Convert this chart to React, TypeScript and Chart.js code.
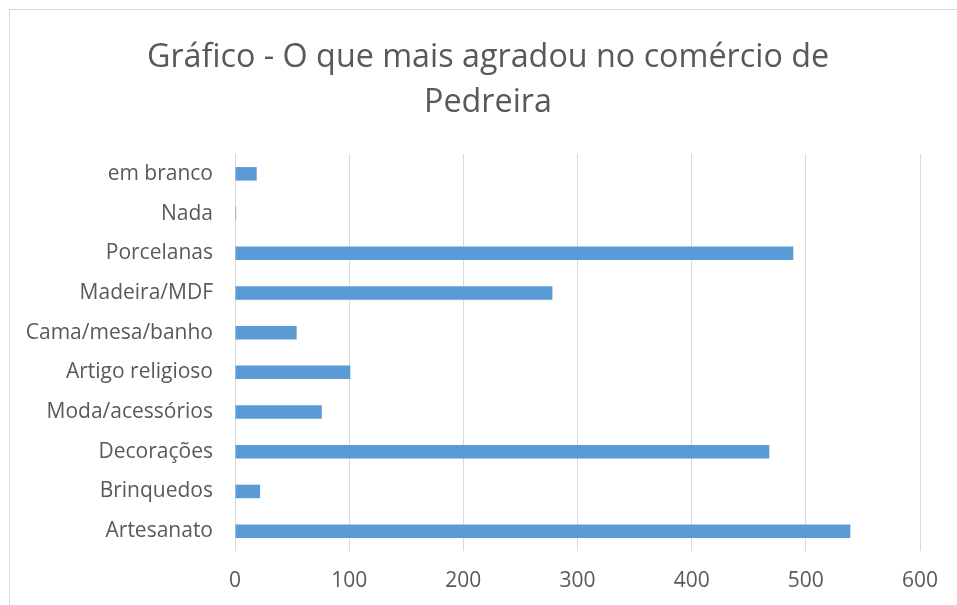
import React, { useEffect, useRef } from "react";
import { Chart, registerables } from "chart.js";

Chart.register(...registerables);

const categories = [
  "em branco",
  "Nada",
  "Porcelanas",
  "Madeira/MDF",
  "Cama/mesa/banho",
  "Artigo religioso",
  "Moda/acessórios",
  "Decorações",
  "Brinquedos",
  "Artesanato",
];
const values = [19, 1, 489, 278, 54, 101, 76, 468, 22, 539];
const titleLines = ["Gráfico - O que mais agradou no comércio de", "Pedreira"];
const xMin = 0;
const xMax = 600;
const xStep = 100;

export default function App() {
  const ref = useRef<HTMLCanvasElement | null>(null);
  useEffect(() => {
    if (!ref.current) return;
    const font = "Open Sans";
    const chart = new Chart(ref.current, {
      type: "bar",
      data: {
        labels: categories,
        datasets: [
          {
            data: values,
            backgroundColor: "#5B9BD5",
            borderColor: "#5B9BD5",
            borderWidth: 0,
            categoryPercentage: 1,
            barPercentage: 0.34,
          },
        ],
      },
      options: {
        indexAxis: "y",
        animation: false,
        responsive: false,
        maintainAspectRatio: false,
        layout: { padding: 0 },
        plugins: {
          legend: { display: false },
          tooltip: { enabled: false },
          title: {
            display: true,
            text: titleLines,
            color: "#595959",
            font: { family: font, size: 32.3, weight: "normal", lineHeight: 1.393 },
            padding: { top: 25, bottom: 29 },
          },
        },
        scales: {
          x: {
            min: xMin,
            max: xMax,
            ticks: {
              stepSize: xStep,
              color: "#595959",
              font: { family: font, size: 21 },
              padding: 17,
            },
            grid: { color: "#d9d9d9", lineWidth: 1, drawTicks: false },
            border: { display: false },
            afterFit: (s: any) => {
              s.height = 55;
            },
          },
          y: {
            ticks: {
              color: "#595959",
              font: { family: font, size: 21 },
              padding: 22,
            },
            grid: { display: false, drawTicks: false },
            border: { display: false },
            afterFit: (s: any) => {
              s.width = 225;
            },
          },
          yRight: {
            type: "category",
            position: "right",
            ticks: { display: false },
            grid: { display: false, drawTicks: false },
            border: { display: false },
            afterFit: (s: any) => {
              s.width = 46;
            },
          },
        },
      },
    });
    return () => chart.destroy();
  }, []);
  return (
    <div
      style={{
        position: "fixed",
        left: 0,
        top: 0,
        width: 957,
        height: 605,
        overflow: "hidden",
        background: "#fff",
      }}
    >
      <div
        style={{
          position: "absolute",
          left: 9,
          top: 9,
          width: 960,
          height: 600,
          borderLeft: "1px solid #d9d9d9",
          borderTop: "1px solid #d9d9d9",
        }}
      >
        <canvas ref={ref} width={956} height={596} style={{ display: "block" }} />
      </div>
    </div>
  );
}
